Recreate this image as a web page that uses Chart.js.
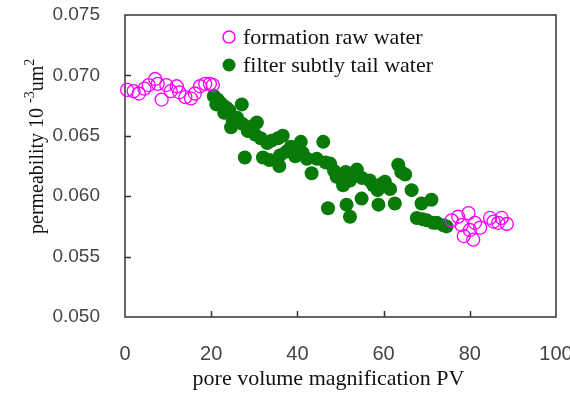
<!DOCTYPE html>
<html lang="en">
<head>
    <meta charset="UTF-8">
    <title>Permeability vs PV</title>
    <script src="https://cdn.jsdelivr.net/npm/chart.js"></script>
    <style>
        html, body { margin: 0; padding: 0; background: #fff; }
        #wrap { width: 570px; height: 394px; position: relative; }
    </style>
</head>
<body>
    <div id="wrap"><canvas id="chart" width="570" height="394"></canvas></div>

    <script>
        // legend labels
        const seriesNames = ['formation raw water', 'filter subtly tail water'];

        // axis ticks
        const xTicks = [0, 20, 40, 60, 80, 100];
        const yTicks = [0.050, 0.055, 0.060, 0.065, 0.070, 0.075];

        // formation raw water, [PV, permeability]
        const rawWater = [
            [0.5, 0.0688], [2, 0.0687], [3.2, 0.0685], [4.5, 0.0689], [5.5, 0.0692],
            [7, 0.0697], [7.6, 0.0693], [8.5, 0.0680], [9.6, 0.0692], [10.6, 0.0687],
            [12, 0.0691], [12.6, 0.0686], [14, 0.0682], [15.3, 0.0681], [16.2, 0.0685],
            [17.4, 0.0691], [18.6, 0.0693], [19.7, 0.0693], [20.4, 0.0692],
            [75.8, 0.0580], [77.3, 0.0583], [78.1, 0.0576], [78.6, 0.0567], [79.7, 0.0586],
            [80, 0.0572], [80.8, 0.0564], [81.2, 0.0578], [82.4, 0.0574], [84.7, 0.0582],
            [85.5, 0.0579], [86.6, 0.0578], [87.4, 0.0582], [88.6, 0.0577]
        ];

        // filter subtly tail water, [PV, permeability]
        const tailWater = [
            [20.6, 0.0683], [21.5, 0.0680], [22.2, 0.0677], [22.8, 0.0675], [23.6, 0.0673],
            [24.2, 0.0671], [27.1, 0.0676], [25, 0.0662], [24.6, 0.0657], [26, 0.0665],
            [27.2, 0.0660], [28.5, 0.0654], [29.5, 0.0658], [30.6, 0.0661], [30.2, 0.0651],
            [31.5, 0.0648], [33, 0.0644], [34, 0.0646], [35.5, 0.0648], [36.6, 0.0650],
            [27.8, 0.0632], [32, 0.0632], [33.5, 0.0630], [36, 0.0634], [37.5, 0.0637],
            [38.5, 0.0641], [39.5, 0.0633], [40.8, 0.0645], [41.2, 0.0636], [42.2, 0.0631],
            [43.3, 0.0619], [44.5, 0.0631], [46, 0.0645], [46.5, 0.0628], [47.6, 0.0627],
            [48.5, 0.0621], [49.1, 0.0616], [50.6, 0.0609], [51.2, 0.0620], [52.2, 0.0613],
            [53.8, 0.0622], [55, 0.0615], [56.8, 0.0613], [57.6, 0.0609], [58.6, 0.0605],
            [59.5, 0.0610], [60.3, 0.0612], [61.5, 0.0606], [63.4, 0.0626], [64.1, 0.0620],
            [65, 0.0618], [66.5, 0.0605], [47.1, 0.0590], [51.4, 0.0593], [52.2, 0.0583],
            [54.9, 0.0598], [58.8, 0.0593], [62.6, 0.0594], [68.8, 0.0594], [71.1, 0.0597],
            [67.7, 0.0582], [69, 0.0581], [70, 0.0580], [71.5, 0.0578], [72.3, 0.0578],
            [73.9, 0.0576], [74.6, 0.0575], [35.8, 0.0625], [21.2, 0.0676], [23, 0.0669]
        ];

        const xTitle = 'pore volume magnification PV';
        // [text, superscript?]
        const yTitleParts = [['permeability 10 ', false], ['-3', true], ['um', false], ['2', true]];

        const MAGENTA = '#ff00ff';
        const GREEN = '#077a07';
        const SERIF = '"Liberation Serif", "Times New Roman", serif';
        const SANS = '"Liberation Sans", Arial, sans-serif';

        // frame, inner ticks, titles and legend
        const decorations = {
            id: 'decorations',
            beforeDatasetsDraw(chart) {
                const { ctx, chartArea: a, scales } = chart;
                ctx.save();
                ctx.strokeStyle = '#333';
                ctx.lineWidth = 1.5;
                ctx.strokeRect(a.left, a.top, a.right - a.left, a.bottom - a.top);
                ctx.beginPath();
                yTicks.slice(1, -1).forEach(v => {
                    const y = Math.round(scales.y.getPixelForValue(v)) + 0.5;
                    ctx.moveTo(a.left, y);
                    ctx.lineTo(a.left + 6, y);
                });
                xTicks.slice(1, -1).forEach(v => {
                    const x = Math.round(scales.x.getPixelForValue(v)) + 0.5;
                    ctx.moveTo(x, a.bottom);
                    ctx.lineTo(x, a.bottom - 6);
                });
                ctx.stroke();
                ctx.restore();
            },
            afterDraw(chart) {
                const { ctx, chartArea: a } = chart;
                ctx.save();
                ctx.fillStyle = '#111';

                // x title
                ctx.font = '22px ' + SERIF;
                ctx.textAlign = 'center';
                ctx.textBaseline = 'alphabetic';
                ctx.fillText(xTitle, (a.left + a.right) / 2 - 12, 385);

                // y title with superscripts
                ctx.translate(43, 234);
                ctx.rotate(-Math.PI / 2);
                ctx.textAlign = 'left';
                let pos = 0;
                yTitleParts.forEach(([t, sup]) => {
                    ctx.font = (sup ? '14px ' : '20px ') + SERIF;
                    ctx.fillText(t, pos, sup ? -9 : 0);
                    pos += ctx.measureText(t).width;
                });
                ctx.restore();

                // legend inside the plot
                ctx.save();
                ctx.font = '22px ' + SERIF;
                ctx.fillStyle = '#111';
                ctx.textBaseline = 'middle';
                const rows = [[37, false], [65, true]];
                rows.forEach(([y, filled], i) => {
                    ctx.beginPath();
                    ctx.arc(229, y, filled ? 6.5 : 6, 0, Math.PI * 2);
                    if (filled) {
                        ctx.fillStyle = GREEN;
                        ctx.fill();
                    } else {
                        ctx.strokeStyle = MAGENTA;
                        ctx.lineWidth = 1.5;
                        ctx.stroke();
                    }
                    ctx.fillStyle = '#111';
                    ctx.fillText(seriesNames[i], 243, y + 1);
                });
                ctx.restore();
            }
        };

        new Chart(document.getElementById('chart'), {
            type: 'scatter',
            data: {
                datasets: [
                    {
                        label: seriesNames[0],
                        data: rawWater.map(([x, y]) => ({ x, y })),
                        pointStyle: 'circle',
                        pointRadius: 6.5,
                        pointBorderWidth: 1.3,
                        borderColor: MAGENTA,
                        backgroundColor: 'rgba(0,0,0,0)',
                        clip: false
                    },
                    {
                        label: seriesNames[1],
                        data: tailWater.map(([x, y]) => ({ x, y })),
                        pointStyle: 'circle',
                        pointRadius: 7,
                        pointBorderWidth: 0,
                        borderColor: GREEN,
                        backgroundColor: GREEN,
                        clip: false
                    }
                ]
            },
            options: {
                responsive: false,
                animation: false,
                devicePixelRatio: 1,
                layout: { padding: { left: 0, right: 14, top: 15, bottom: 0 } },
                plugins: {
                    legend: { display: false },
                    tooltip: { enabled: false }
                },
                scales: {
                    x: {
                        type: 'linear',
                        min: 0,
                        max: 100,
                        afterFit(s) { s.height = 77; s.paddingLeft = 0; s.paddingRight = 0; },
                        afterBuildTicks(s) { s.ticks = xTicks.map(v => ({ value: v })); },
                        grid: { display: false, drawTicks: false },
                        border: { display: false },
                        ticks: {
                            padding: 25,
                            maxRotation: 0,
                            minRotation: 0,
                            color: '#444',
                            font: { family: SANS, size: 20 }
                        }
                    },
                    y: {
                        type: 'linear',
                        min: 0.05,
                        max: 0.075,
                        afterFit(s) { s.width = 125; s.paddingTop = 0; s.paddingBottom = 0; },
                        afterBuildTicks(s) { s.ticks = yTicks.map(v => ({ value: v })); },
                        grid: { display: false, drawTicks: false },
                        border: { display: false },
                        ticks: {
                            padding: 25,
                            color: '#444',
                            font: { family: SANS, size: 19 },
                            callback: v => v.toFixed(3)
                        }
                    }
                }
            },
            plugins: [decorations]
        });
    </script>
</body>
</html>
